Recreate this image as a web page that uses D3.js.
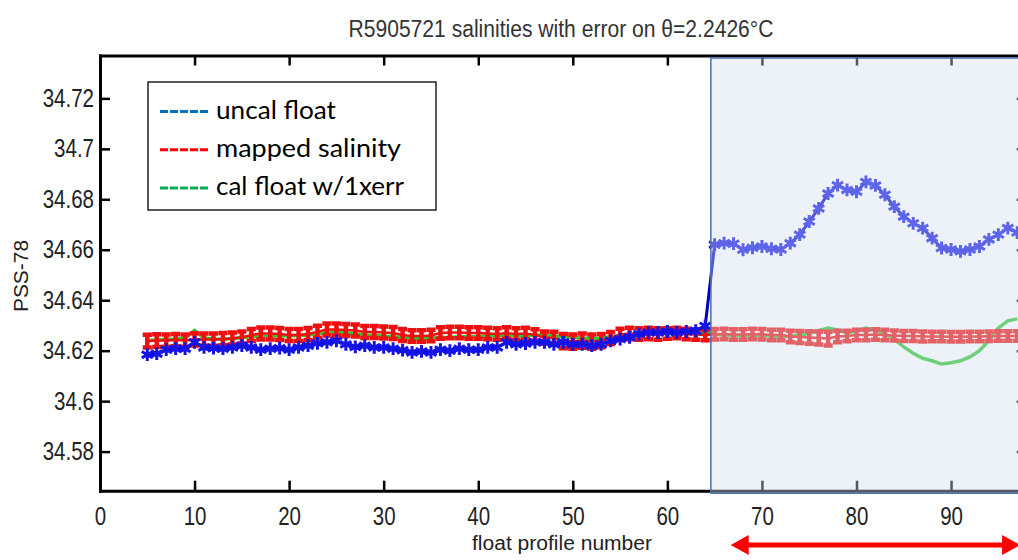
<!DOCTYPE html>
<html>
<head>
<meta charset="utf-8">
<script src="https://cdn.jsdelivr.net/npm/d3@7"></script>
<style>
body { margin: 0; background: #fff; }
svg text { font-family: "Liberation Sans", Arial, sans-serif; }
.legend text { font-family: Lato, "Open Sans", sans-serif; }
</style>
</head>
<body>
<svg id="chart" width="1018" height="560"></svg>
<script>

var profiles = [5, 6, 7, 8, 9, 10, 11, 12, 13, 14, 15, 16, 17, 18, 19, 20, 21, 22, 23, 24,
  25, 26, 27, 28, 29, 30, 31, 32, 33, 34, 35, 36, 37, 38, 39, 40, 41, 42, 43, 44,
  45, 46, 47, 48, 49, 50, 51, 52, 53, 54, 55, 56, 57, 58, 59, 60, 61, 62, 63, 64,
  65, 66, 67, 68, 69, 70, 71, 72, 73, 74, 75, 76, 77, 78, 79, 80, 81, 82, 83, 84,
  85, 86, 87, 88, 89, 90, 91, 92, 93, 94, 95, 96, 97];

// uncal float salinity
var uncal = [34.6184, 34.6188, 34.6204, 34.6208, 34.6208, 34.6233, 34.6213, 34.6210, 34.6208, 34.6213,
  34.6220, 34.6213, 34.6204, 34.6208, 34.6210, 34.6204, 34.6213, 34.6220, 34.6229, 34.6233,
  34.6239, 34.6225, 34.6215, 34.6220, 34.6213, 34.6213, 34.6208, 34.6202, 34.6193, 34.6197,
  34.6193, 34.6204, 34.6200, 34.6208, 34.6204, 34.6204, 34.6213, 34.6213, 34.6233, 34.6225,
  34.6228, 34.6233, 34.6233, 34.6225, 34.6233, 34.6225, 34.6225, 34.6220, 34.6225, 34.6239,
  34.6246, 34.6253, 34.6266, 34.6272, 34.6272, 34.6276, 34.6272, 34.6276, 34.6279, 34.6298,
  34.6620, 34.6626, 34.6624, 34.6600, 34.6608, 34.6613, 34.6604, 34.6601, 34.6626, 34.6660,
  34.6712, 34.6764, 34.6823, 34.6856, 34.6837, 34.6830, 34.6869, 34.6855, 34.6818, 34.6771,
  34.6731, 34.6705, 34.6686, 34.6646, 34.6607, 34.6601, 34.6594, 34.6601, 34.6613, 34.6641,
  34.6660, 34.6686, 34.6668];

// mapped salinity and its error
var mapped = [34.6238, 34.6240, 34.6240, 34.6242, 34.6240, 34.6245, 34.6244, 34.6244, 34.6246, 34.6248,
  34.6252, 34.6262, 34.6268, 34.6268, 34.6266, 34.6262, 34.6262, 34.6266, 34.6275, 34.6284,
  34.6284, 34.6282, 34.6280, 34.6274, 34.6274, 34.6272, 34.6270, 34.6262, 34.6258, 34.6258,
  34.6260, 34.6270, 34.6272, 34.6272, 34.6270, 34.6270, 34.6268, 34.6266, 34.6270, 34.6266,
  34.6268, 34.6262, 34.6252, 34.6250, 34.6238, 34.6236, 34.6240, 34.6236, 34.6240, 34.6250,
  34.6264, 34.6268, 34.6266, 34.6268, 34.6266, 34.6268, 34.6270, 34.6266, 34.6264, 34.6262,
  34.6265, 34.6266, 34.6264, 34.6264, 34.6266, 34.6265, 34.6262, 34.6262, 34.6256, 34.6254,
  34.6252, 34.6250, 34.6248, 34.6256, 34.6258, 34.6262, 34.6262, 34.6264, 34.6262, 34.6260,
  34.6258, 34.6258, 34.6256, 34.6256, 34.6256, 34.6255, 34.6255, 34.6256, 34.6256, 34.6257,
  34.6258, 34.6258, 34.6258];

var mappedErr = [0.0025, 0.0025, 0.0024, 0.0024, 0.0024, 0.0024, 0.0024, 0.0024, 0.0024, 0.0024,
  0.0024, 0.0024, 0.0024, 0.0024, 0.0024, 0.0024, 0.0024, 0.0024, 0.0024, 0.0024,
  0.0024, 0.0024, 0.0024, 0.0024, 0.0024, 0.0024, 0.0024, 0.0024, 0.0023, 0.0023,
  0.0023, 0.0023, 0.0023, 0.0023, 0.0023, 0.0023, 0.0023, 0.0023, 0.0023, 0.0023,
  0.0023, 0.0023, 0.0024, 0.0025, 0.0028, 0.0028, 0.0028, 0.0028, 0.0026, 0.0024,
  0.0023, 0.0023, 0.0023, 0.0023, 0.0023, 0.0021, 0.0021, 0.0021, 0.0021, 0.0021,
  0.0021, 0.0021, 0.0021, 0.0021, 0.0021, 0.0021, 0.0021, 0.0021, 0.0023, 0.0024,
  0.0025, 0.0026, 0.0027, 0.0023, 0.0021, 0.0021, 0.0021, 0.0021, 0.0021, 0.0020,
  0.0020, 0.0020, 0.0020, 0.0019, 0.0019, 0.0019, 0.0019, 0.0019, 0.0019, 0.0019,
  0.0019, 0.0019, 0.0019];

// cal float with 1x error
var cal = [34.6240, 34.6242, 34.6245, 34.6246, 34.6250, 34.6280, 34.6250, 34.6246, 34.6245, 34.6248,
  34.6252, 34.6255, 34.6258, 34.6258, 34.6260, 34.6258, 34.6260, 34.6262, 34.6268, 34.6272,
  34.6275, 34.6270, 34.6265, 34.6262, 34.6260, 34.6258, 34.6255, 34.6252, 34.6248, 34.6248,
  34.6250, 34.6252, 34.6252, 34.6255, 34.6255, 34.6256, 34.6258, 34.6260, 34.6262, 34.6260,
  34.6260, 34.6262, 34.6262, 34.6258, 34.6256, 34.6252, 34.6250, 34.6248, 34.6250, 34.6255,
  34.6258, 34.6260, 34.6264, 34.6266, 34.6266, 34.6268, 34.6266, 34.6268, 34.6268, 34.6270,
  34.6264, 34.6262, 34.6260, 34.6258, 34.6258, 34.6260, 34.6258, 34.6256, 34.6258, 34.6262,
  34.6268, 34.6280, 34.6290, 34.6282, 34.6270, 34.6278, 34.6290, 34.6282, 34.6268, 34.6245,
  34.6215, 34.6190, 34.6170, 34.6160, 34.6147, 34.6152, 34.6160, 34.6175, 34.6200, 34.6240,
  34.6290, 34.6318, 34.6326];

var xTicks = [0, 10, 20, 30, 40, 50, 60, 70, 80, 90];
var yTicks = [34.58, 34.6, 34.62, 34.64, 34.66, 34.68, 34.7, 34.72];
var yTickLabels = ["34.58", "34.6", "34.62", "34.64", "34.66", "34.68", "34.7", "34.72"];

var legendLabels = ["uncal float", "mapped salinity", "cal float w/1xerr"];
var legendWidths = [120, 185, 188];
var legendColors = ["#0070c0", "#ff0000", "#00b050"];

var highlightStart = 64.6;   // shaded region, profiles
var arrowSpan = [66.7, 97.3];

var titleText = "R5905721 salinities with error on \u03b8=2.2426\u00b0C";

var x = d3.scaleLinear().domain([0, 98]).range([100, 1026.7]);
var y = d3.scaleLinear().domain([34.5645, 34.737]).range([490.7, 55.5]);

var narrow = 0.82;  // horizontal squeeze of the tall, narrow plot font

var svg = d3.select('#chart');

svg.append('defs').append('clipPath').attr('id', 'plotclip')
  .append('rect')
  .attr('x', x(0)).attr('y', y.range()[1])
  .attr('width', x.range()[1] - x(0)).attr('height', y.range()[0] - y.range()[1]);

// axes
function styleAxis(g) {
  g.select('.domain').attr('stroke', '#000').attr('stroke-width', 3).attr('stroke-linecap', 'square');
  g.selectAll('.tick line').attr('stroke', '#000').attr('stroke-width', 2.5);
  g.selectAll('.tick text').attr('fill', '#222').attr('font-size', 25)
    .attr('font-family', '"Liberation Sans", Arial, sans-serif')
    .attr('transform', 'scale(' + narrow + ',1)');
}

svg.append('g').attr('transform', 'translate(0,' + y.range()[0] + ')')
  .call(d3.axisBottom(x).tickValues(xTicks).tickSizeInner(-10).tickSizeOuter(0).tickPadding(17))
  .call(styleAxis);
svg.append('g').attr('transform', 'translate(0,' + y.range()[1] + ')')
  .call(d3.axisTop(x).tickValues(xTicks).tickSizeInner(-10).tickSizeOuter(0).tickFormat(''))
  .call(styleAxis);
svg.append('g').attr('transform', 'translate(' + x(0) + ',0)')
  .call(d3.axisLeft(y).tickValues(yTicks).tickSizeInner(-10).tickSizeOuter(0).tickPadding(6 / narrow)
    .tickFormat(function(d, i) { return yTickLabels[i]; }))
  .call(styleAxis);
svg.append('g').attr('transform', 'translate(' + x.range()[1] + ',0)')
  .call(d3.axisRight(y).tickValues(yTicks).tickSizeInner(-10).tickSizeOuter(0).tickFormat(''))
  .call(styleAxis);

var plot = svg.append('g').attr('clip-path', 'url(#plotclip)');
var line = d3.line().x(function(d, i) { return x(profiles[i]); }).y(function(d) { return y(d); });

// cal float
plot.append('path').attr('d', line(cal))
  .attr('fill', 'none').attr('stroke', '#2ec82e').attr('stroke-width', 3.5);

// mapped salinity: centre line plus error bars with wide caps
plot.append('path').attr('d', line(mapped))
  .attr('fill', 'none').attr('stroke', '#ee1010').attr('stroke-width', 2.5);
var cap = 4.6;
plot.selectAll('path.eb').data(mapped).join('path')
  .attr('class', 'eb')
  .attr('d', function(d, i) {
    var px = x(profiles[i]), yt = y(d + mappedErr[i]), yb = y(d - mappedErr[i]);
    return 'M' + (px - cap) + ',' + yt + 'H' + (px + cap) +
           'M' + px + ',' + yt + 'V' + yb +
           'M' + (px - cap) + ',' + yb + 'H' + (px + cap);
  })
  .attr('fill', 'none').attr('stroke', '#ee1010').attr('stroke-width', 4.5);

// uncal float
plot.append('path').attr('d', line(uncal))
  .attr('fill', 'none').attr('stroke', '#0000c0').attr('stroke-width', 3);

var marker = d3.symbol().type(d3.symbolAsterisk || d3.symbolCross).size(115);
plot.selectAll('path.mk').data(uncal).join('path')
  .attr('class', 'mk')
  .attr('transform', function(d, i) { return 'translate(' + x(profiles[i]) + ',' + y(d) + ')'; })
  .attr('d', marker)
  .attr('fill', 'none').attr('stroke', '#1414e6').attr('stroke-width', 3);

// shaded highlight over the recent profiles
svg.append('rect')
  .attr('x', x(highlightStart)).attr('y', y.range()[1] + 2.5)
  .attr('width', 1030 - x(highlightStart)).attr('height', y.range()[0] - y.range()[1])
  .attr('fill', '#d0dfee').attr('fill-opacity', 0.4)
  .attr('stroke', '#4a6fae').attr('stroke-width', 1.5);

// legend
var legend = svg.append('g').attr('class', 'legend');
legend.append('rect').attr('x', 148).attr('y', 82).attr('width', 288).attr('height', 128)
  .attr('fill', '#fff').attr('stroke', '#000').attr('stroke-width', 1.3);
var li = legend.selectAll('g').data(legendLabels).join('g')
  .attr('transform', function(d, i) { return 'translate(160,' + (111.5 + i * 38.3) + ')'; });
li.append('line').attr('x1', 0).attr('x2', 48)
  .attr('stroke', function(d, i) { return legendColors[i]; })
  .attr('stroke-width', 3).attr('stroke-dasharray', '8,2');
li.append('text').attr('x', 56).attr('y', 7).attr('font-size', 25).attr('fill', '#000')
  .attr('textLength', function(d, i) { return legendWidths[i]; })
  .attr('lengthAdjust', 'spacingAndGlyphs')
  .text(function(d) { return d; });

// title and axis labels
svg.append('text').attr('x', 561).attr('y', 37).attr('text-anchor', 'middle')
  .attr('font-size', 23).attr('fill', '#333')
  .attr('textLength', 425).attr('lengthAdjust', 'spacingAndGlyphs').text(titleText);
svg.append('text').attr('x', 562).attr('y', 550).attr('text-anchor', 'middle')
  .attr('font-size', 20).attr('fill', '#222')
  .attr('textLength', 180).attr('lengthAdjust', 'spacingAndGlyphs').text('float profile number');
svg.append('text').attr('transform', 'translate(28,276) rotate(-90)').attr('text-anchor', 'middle')
  .attr('font-size', 21).attr('fill', '#222')
  .attr('textLength', 72).attr('lengthAdjust', 'spacingAndGlyphs').text('PSS-78');

// red double-headed arrow below the axis
var ay = 545, ax0 = x(arrowSpan[0]), ax1 = x(arrowSpan[1]);
svg.append('line').attr('x1', ax0 + 10).attr('x2', ax1 - 10).attr('y1', ay).attr('y2', ay)
  .attr('stroke', '#ff0000').attr('stroke-width', 5);
svg.append('path')
  .attr('d', 'M' + ax0 + ',' + ay + 'L' + (ax0 + 18) + ',' + (ay - 10) + 'L' + (ax0 + 18) + ',' + (ay + 10) + 'Z' +
             'M' + ax1 + ',' + ay + 'L' + (ax1 - 18) + ',' + (ay - 10) + 'L' + (ax1 - 18) + ',' + (ay + 10) + 'Z')
  .attr('fill', '#ff0000');

</script>
</body>
</html>
